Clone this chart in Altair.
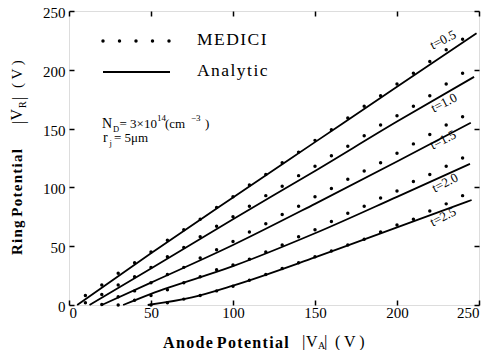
import altair as alt
import pandas as pd

# ---------------- data ----------------
ticks = [0, 50, 100, 150, 200, 250]
t_labels = ["t=0.5", "t=1.0", "t=1.5", "t=2.0", "t=2.5"]

# Analytic curves (solid lines)
ana_x_05 = [5, 50, 100, 150, 200, 248.5]
ana_y_05 = [0, 44, 91.5, 138.5, 185.5, 231]
ana_x_10 = [12.5, 50, 100, 150, 200, 247]
ana_y_10 = [0, 31, 73, 114, 156, 194]
ana_x_15 = [20, 50, 100, 150, 200, 245]
ana_y_15 = [0, 19, 51, 86, 122, 155]
ana_x_20 = [33, 50, 100, 150, 200, 244.5]
ana_y_20 = [0, 9.5, 33, 61, 92, 120]
ana_x_25 = [48, 75, 100, 150, 200, 245.5]
ana_y_25 = [0, 6.5, 16.5, 40.5, 66, 89.3]

# MEDICI simulation (dots)
med_x_05 = list(range(10, 250, 10))
med_y_05 = [8, 17, 27, 36, 45, 55, 64, 73, 83, 92, 102, 111, 121, 130, 140, 149,
            159, 169, 178, 188, 197, 207, 217, 226]
med_x_10 = list(range(10, 250, 10))
med_y_10 = [2, 9, 17, 24, 32, 41, 49, 58, 67, 75, 84, 93, 101, 110, 118, 127,
            135, 144, 153, 161, 169, 178, 188, 197]
med_x_15 = list(range(20, 250, 10))
med_y_15 = [0.5, 7, 12, 19, 26, 32, 40, 47, 54, 62, 69, 77, 84, 92, 99, 107,
            114, 121, 129, 137, 145, 153, 160]
med_x_20 = list(range(30, 250, 10))
med_y_20 = [0, 4, 8, 13, 19, 24, 30, 34, 39, 45, 51, 58, 64, 71, 78, 84, 91, 97,
            105, 111, 118, 125]
med_x_25 = list(range(50, 250, 10))
med_y_25 = [0, 2, 5, 8, 12, 16, 21, 26, 31, 36, 41, 46, 51, 56, 62, 68, 73, 80, 86, 93]

ana = [(ana_x_05, ana_y_05), (ana_x_10, ana_y_10), (ana_x_15, ana_y_15),
       (ana_x_20, ana_y_20), (ana_x_25, ana_y_25)]
med = [(med_x_05, med_y_05), (med_x_10, med_y_10), (med_x_15, med_y_15),
       (med_x_20, med_y_20), (med_x_25, med_y_25)]

lines_df = pd.DataFrame([
    {"t": t, "x": x, "y": y}
    for t, (xs_, ys_) in zip(t_labels, ana) for x, y in zip(xs_, ys_)
])
dots_df = pd.DataFrame([
    {"t": t, "x": x, "y": y}
    for t, (xs_, ys_) in zip(t_labels, med) for x, y in zip(xs_, ys_)
])

# ---------------- annotation placement helpers (reference pixels -> data) ----------------
def DX(px):
    return (px - 69) / 410 * 250


def DY(py):
    return (305 - py) / 294 * 250


FONT = "Liberation Serif"
W, H = 410, 294

xs = alt.Scale(domain=[0, 250], nice=False, zero=False)
ys = alt.Scale(domain=[0, 250], nice=False, zero=False)

common_axis = dict(values=ticks, tickSize=5, offset=-5, domain=False, grid=False,
                   tickColor="black", tickWidth=1.5, labelColor="black",
                   labelFont=FONT, labelFontSize=15, title=None)

lines = alt.Chart(lines_df).mark_line(color="black", strokeWidth=1.8,
                                      interpolate="monotone").encode(
    x=alt.X("x:Q", scale=xs, axis=alt.Axis(orient="bottom", labelPadding=0, **common_axis)),
    y=alt.Y("y:Q", scale=ys, axis=alt.Axis(orient="left", labelPadding=4, labelOffset=1.5,
                                           **common_axis)),
    detail="t:N",
)

dots = alt.Chart(dots_df).mark_circle(color="black", size=12, opacity=1).encode(
    x=alt.X("x:Q", scale=xs, axis=alt.Axis(orient="top", labels=False, **common_axis)),
    y=alt.Y("y:Q", scale=ys, axis=alt.Axis(orient="right", labels=False, **common_axis)),
)

# legend samples
leg_dot_df = pd.DataFrame({"x": [DX(p) for p in [103, 119.5, 136, 152.5, 169]],
                           "y": [DY(41)] * 5})
leg_dots = alt.Chart(leg_dot_df).mark_circle(color="black", size=12, opacity=1).encode(
    x=alt.X("x:Q", scale=xs, axis=None), y=alt.Y("y:Q", scale=ys, axis=None))
leg_line_df = pd.DataFrame({"x": [DX(103), DX(170)], "y": [DY(72), DY(72)]})
leg_line = alt.Chart(leg_line_df).mark_line(color="black", strokeWidth=2).encode(
    x=alt.X("x:Q", scale=xs, axis=None), y=alt.Y("y:Q", scale=ys, axis=None))

# t labels along the curves
lab_df = pd.DataFrame({
    "x": [DX(443), DX(444), DX(443), DX(445), DX(443)],
    "y": [DY(40), DY(103), DY(140), DY(183), DY(217)],
    "text": t_labels,
})
tlabels = alt.Chart(lab_df).mark_text(font=FONT, fontSize=13, align="center",
                                      baseline="middle", color="black").encode(
    x=alt.X("x:Q", scale=xs, axis=None), y=alt.Y("y:Q", scale=ys, axis=None),
    text="text:N", angle=alt.value(333))

HS = "\u200a"
# horizontal text fragments (text, px, py baseline, size)
frag_normal = [
    (HS.join("MEDICI"), 197, 45, 17.5),
    (HS.join("Analytic"), 197, 76, 17.5),
    ("N", 102, 128, 14), ("D", 113, 131.5, 8.5), ("= 3\u00d710", 119.5, 128, 13),
    ("14", 157, 121, 9), ("(cm", 165, 128, 13), ("\u22123", 191, 121, 9), (")", 205, 128, 13),
    ("r", 103, 142, 14), ("j", 109.5, 145.5, 8.5), ("= 5\u03bcm", 114, 142, 13),
    ("|", 302, 347, 17), ("V", 306, 347, 16), ("A", 318, 349, 10), ("|", 324, 347, 17),
    ("( V )", 335, 347, 16),
]
frag_bold = [
    (HS.join("Anode") + " " + HS.join("Potential"), 163, 348, 16),
]
# rotated (vertical) y title fragments: baseline x, start y (bottom)
vfrag_normal = [
    ("|", 24, 124, 17), ("V", 22, 120.5, 16), ("R", 26, 108, 10), ("|", 24, 100, 17),
    ("( V )", 22, 88, 15),
]
vfrag_bold = [
    (HS.join("Ring") + " " + HS.join("Potential"), 22, 255, 15),
]


def frag_layer(frags, weight, angle):
    df = pd.DataFrame({
        "x": [DX(f[1]) for f in frags],
        "y": [DY(f[2]) for f in frags],
        "text": [f[0] for f in frags],
        "fs": [f[3] for f in frags],
    })
    return alt.Chart(df).mark_text(font=FONT, fontWeight=weight, align="left",
                                   baseline="alphabetic", color="black").encode(
        x=alt.X("x:Q", scale=xs, axis=None),
        y=alt.Y("y:Q", scale=ys, axis=None),
        text="text:N",
        size=alt.Size("fs:Q", scale=None, legend=None),
        angle=alt.value(angle),
    )


chart = alt.layer(
    lines, dots, leg_dots, leg_line, tlabels,
    frag_layer(frag_normal, "normal", 0),
    frag_layer(frag_bold, "bold", 0),
    frag_layer(vfrag_normal, "normal", 270),
    frag_layer(vfrag_bold, "bold", 270),
).resolve_axis(x="independent", y="independent").properties(
    width=W, height=H,
    autosize=alt.AutoSizeParams(type="none"),
    padding={"left": 61, "top": 3, "right": 2, "bottom": 45},
).configure_view(stroke="black", strokeWidth=2).configure(background="white")

chart.save("out.html", embed_options={"renderer": "svg", "actions": False})
